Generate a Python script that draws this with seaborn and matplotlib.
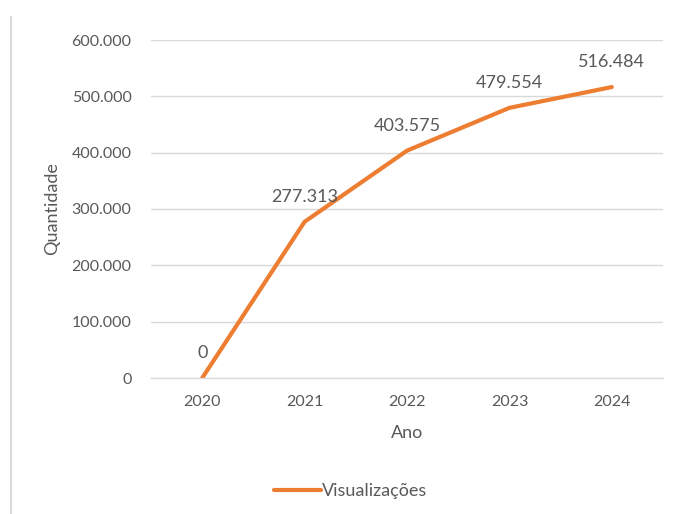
import matplotlib.pyplot as plt
import matplotlib.ticker as mticker
from matplotlib.lines import Line2D
import pandas as pd
import seaborn as sns

# Chart data
anos = ["2020", "2021", "2022", "2023", "2024"]
visualizacoes = [0, 277313, 403575, 479554, 516484]

df = pd.DataFrame({"Ano": anos, "Visualizações": visualizacoes})

sns.set_style("white")
plt.rcParams["font.family"] = ["Lato", "DejaVu Sans"]

text_color = "#595959"
grid_color = "#D9D9D9"
orange = "#ED7D31"


def fmt_pt(v, pos=None):
    return f"{int(round(v)):,}".replace(",", ".")


fig = plt.figure(figsize=(6.76, 5.14), dpi=100)
ax = fig.add_axes([151 / 676, 1 - 378 / 514, 512 / 676, 338 / 514])

sns.lineplot(data=df, x="Ano", y="Visualizações", color=orange, linewidth=3,
             ax=ax, label="Visualizações", sort=False)

ax.set_xlim(-0.5, 4.5)
ax.set_ylim(0, 600000)
ax.set_yticks(range(0, 600001, 100000))
ax.yaxis.set_major_formatter(mticker.FuncFormatter(fmt_pt))
ax.grid(axis="y", color=grid_color, linewidth=1)
ax.set_axisbelow(True)
for s in ["top", "right", "left"]:
    ax.spines[s].set_visible(False)
ax.spines["bottom"].set_color(grid_color)
ax.spines["bottom"].set_linewidth(1)
ax.tick_params(axis="both", length=0, labelsize=11.5, colors=text_color)
ax.tick_params(axis="y", pad=14)
ax.tick_params(axis="x", pad=12)

ax.set_xlabel("Ano", fontsize=13, color=text_color, labelpad=12)
ax.set_ylabel("Quantidade", fontsize=13, color=text_color, labelpad=8)

# Data labels
for i, v in enumerate(visualizacoes):
    ax.annotate(fmt_pt(v), (i, v), xytext=(0, 12), textcoords="offset points",
                ha="center", va="bottom", fontsize=13, color=text_color)

# Legend at bottom
ax.legend(loc="center", bbox_to_anchor=(0.39, -0.335), frameon=False,
          fontsize=13, labelcolor=text_color, handlelength=2.6,
          handletextpad=0.1)

# Left border line of the chart area
fig.add_artist(Line2D([11 / 676, 11 / 676], [0, 1 - 17 / 514],
                      transform=fig.transFigure, color=grid_color, linewidth=1.5))

fig.savefig("out.png", dpi=100)
